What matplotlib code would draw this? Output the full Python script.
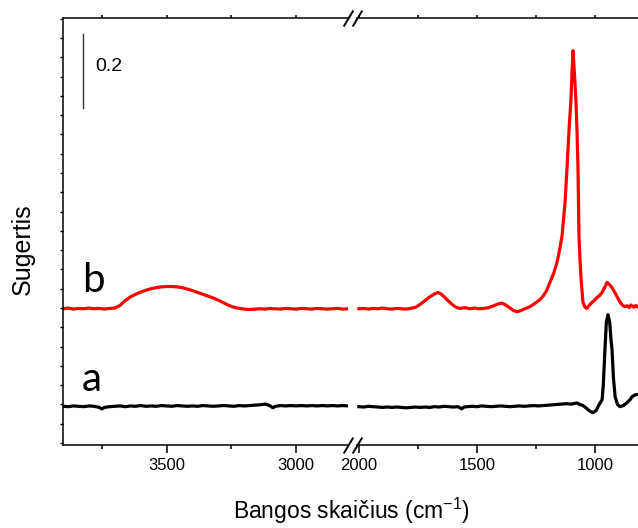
import numpy as np
import matplotlib
matplotlib.use("Agg")
import matplotlib.pyplot as plt
from matplotlib.ticker import MultipleLocator

# ── Config ───────────────────────────────────────────────────────────────────
RED   = "#FF0000"
BLACK = "#000000"

plt.rcParams.update({
    "font.family":      "sans-serif",
    "font.sans-serif":  ["Liberation Sans", "Arial", "DejaVu Sans"],
    "mathtext.fontset": "custom",
    "mathtext.rm":      "Liberation Sans",
    "axes.linewidth":   1.1,
    "figure.facecolor": "white",
})

# ── Data: high-wavenumber part (3900-2800 cm-1) ─────────────────────────────
wn_hi = [3900, 3880, 3860, 3840, 3820, 3800, 3780, 3760, 3750, 3740, 3720, 3700,
         3680, 3660, 3640, 3620, 3600, 3580, 3560, 3540, 3520, 3500, 3480, 3460,
         3440, 3420, 3400, 3380, 3360, 3340, 3320, 3300, 3280, 3260, 3240, 3220,
         3200, 3180, 3160, 3140, 3120, 3110, 3100, 3090, 3080, 3060, 3040, 3020,
         3000, 2980, 2960, 2940, 2920, 2900, 2880, 2860, 2840, 2820, 2800]

b_hi = [0.366, 0.368, 0.365, 0.367, 0.366, 0.368, 0.366, 0.367, 0.366, 0.365, 0.367, 0.368,
        0.375, 0.388, 0.398, 0.405, 0.411, 0.416, 0.420, 0.423, 0.425, 0.426, 0.426, 0.425,
        0.423, 0.419, 0.415, 0.410, 0.405, 0.400, 0.395, 0.389, 0.382, 0.375, 0.370, 0.367,
        0.365, 0.364, 0.365, 0.366, 0.365, 0.366, 0.367, 0.366, 0.366, 0.365, 0.367, 0.366,
        0.365, 0.367, 0.366, 0.365, 0.367, 0.366, 0.365, 0.366, 0.367, 0.365, 0.366]

a_hi = [0.103, 0.102, 0.104, 0.103, 0.102, 0.104, 0.103, 0.100, 0.096, 0.100, 0.102, 0.103,
        0.104, 0.102, 0.104, 0.103, 0.105, 0.103, 0.104, 0.103, 0.105, 0.104, 0.103, 0.105,
        0.104, 0.103, 0.104, 0.103, 0.105, 0.104, 0.103, 0.104, 0.105, 0.104, 0.103, 0.105,
        0.104, 0.105, 0.106, 0.107, 0.109, 0.107, 0.104, 0.099, 0.103, 0.105, 0.104, 0.105,
        0.104, 0.105, 0.104, 0.105, 0.104, 0.105, 0.104, 0.105, 0.104, 0.105, 0.104]

# ── Data: fingerprint part (2000-818 cm-1) ──────────────────────────────────
wn_lo_b = [2000, 1980, 1960, 1940, 1920, 1900, 1880, 1860, 1840, 1820, 1800, 1780,
           1760, 1740, 1720, 1700, 1680, 1665, 1650, 1635, 1620, 1600, 1585, 1570,
           1550, 1530, 1510, 1490, 1470, 1450, 1430, 1410, 1395, 1380, 1360, 1345,
           1330, 1315, 1300, 1285, 1275, 1260, 1245, 1233, 1220, 1205, 1191, 1175,
           1161, 1150, 1140, 1127, 1119, 1110, 1102, 1097, 1093, 1089, 1081, 1076,
           1072, 1068, 1063, 1059, 1051, 1042, 1034, 1025, 1013, 1000, 992, 980,
           970, 958, 949, 940, 928, 918, 907, 895, 886, 875, 864, 855,
           848, 843, 835, 828, 818]

b_lo = [0.366, 0.367, 0.365, 0.367, 0.366, 0.368, 0.366, 0.365, 0.367, 0.366, 0.365, 0.367,
        0.370, 0.378, 0.388, 0.398, 0.406, 0.410, 0.405, 0.396, 0.386, 0.375, 0.369, 0.367,
        0.369, 0.366, 0.368, 0.366, 0.367, 0.369, 0.374, 0.379, 0.381, 0.377, 0.368, 0.361,
        0.358, 0.361, 0.365, 0.369, 0.372, 0.378, 0.385, 0.391, 0.400, 0.415, 0.437, 0.462,
        0.491, 0.525, 0.561, 0.652, 0.741, 0.849, 0.930, 1.010, 1.062, 1.020, 0.930, 0.840,
        0.741, 0.561, 0.490, 0.445, 0.383, 0.370, 0.367, 0.375, 0.383, 0.390, 0.396, 0.402,
        0.410, 0.425, 0.437, 0.432, 0.423, 0.412, 0.399, 0.385, 0.377, 0.372, 0.374, 0.369,
        0.376, 0.374, 0.370, 0.375, 0.371]

wn_lo_a = [2000, 1980, 1960, 1940, 1920, 1900, 1880, 1860, 1840, 1820, 1800, 1780,
           1760, 1740, 1720, 1700, 1680, 1660, 1640, 1620, 1600, 1580, 1565, 1555,
           1540, 1520, 1500, 1480, 1460, 1440, 1420, 1400, 1380, 1360, 1340, 1320,
           1300, 1280, 1260, 1240, 1220, 1200, 1180, 1160, 1140, 1120, 1100, 1085,
           1076, 1065, 1051, 1035, 1020, 1008, 995, 985, 970, 965, 958, 952,
           945, 938, 932, 928, 922, 915, 905, 894, 880, 864, 850, 843,
           830, 818]

a_lo = [0.102, 0.101, 0.103, 0.102, 0.101, 0.100, 0.101, 0.100, 0.101, 0.100, 0.099, 0.100,
        0.101, 0.100, 0.101, 0.100, 0.102, 0.101, 0.103, 0.102, 0.101, 0.102, 0.096, 0.101,
        0.102, 0.103, 0.102, 0.104, 0.103, 0.102, 0.103, 0.104, 0.103, 0.102, 0.103, 0.104,
        0.103, 0.104, 0.105, 0.104, 0.105, 0.106, 0.107, 0.108, 0.109, 0.110, 0.109, 0.111,
        0.112, 0.108, 0.105, 0.097, 0.089, 0.086, 0.092, 0.105, 0.121, 0.160, 0.256, 0.330,
        0.350, 0.330, 0.280, 0.256, 0.180, 0.129, 0.108, 0.102, 0.105, 0.113, 0.122, 0.129,
        0.134, 0.135]

XLIM_HI = (3900, 2800)
XLIM_LO = (2008, 818)
YLIM    = (0, 1.15)

# ── Figure: two axes forming a broken x-axis ────────────────────────────────
W, H = 638, 528
fig = plt.figure(figsize=(W / 100, H / 100), dpi=100)

def px_box(x0, x1, ytop, ybot):
    return [x0 / W, 1 - ybot / H, (x1 - x0) / W, (ybot - ytop) / H]

ax1 = fig.add_axes(px_box(63, 348, 18, 444.5))
ax2 = fig.add_axes(px_box(357, 638, 18, 444.5))

ax1.plot(wn_hi, b_hi, color=RED, lw=2.3, solid_joinstyle="round")
ax1.plot(wn_hi, a_hi, color=BLACK, lw=2.3, solid_joinstyle="round")
ax2.plot(wn_lo_b, b_lo, color=RED, lw=2.3, solid_joinstyle="round")
ax2.plot(wn_lo_a, a_lo, color=BLACK, lw=2.3, solid_joinstyle="round")

for ax, lim in ((ax1, XLIM_HI), (ax2, XLIM_LO)):
    ax.set_xlim(*lim)
    ax.set_ylim(*YLIM)
    ax.xaxis.set_major_locator(MultipleLocator(500))
    ax.xaxis.set_minor_locator(MultipleLocator(250))
    ax.tick_params(axis="x", which="major", direction="out", length=6, width=1.1,
                   labelsize=12, pad=4, top=True)
    ax.tick_params(axis="x", which="minor", direction="out", length=3, width=1.1, top=True)
    ax.tick_params(axis="x", which="both", labeltop=False)
    ax.spines["right"].set_visible(False)

# top ticks short
for ax in (ax1, ax2):
    for t in ax.xaxis.get_major_ticks() + ax.xaxis.get_minor_ticks():
        t.tick2line.set_markersize(2.5)

ax1.set_yticks(np.arange(0.004, 1.15, 0.052))
ax1.tick_params(axis="y", direction="out", length=2.5, width=1, labelleft=False)
ax2.spines["left"].set_visible(False)
ax2.tick_params(axis="y", left=False, labelleft=False)

# break marks
kw = dict(marker=[(-0.6, -1), (0.6, 1)], markersize=11.5, linestyle="none",
          color="k", mec="k", mew=1.4, clip_on=False)
ax1.plot([1, 1], [0, 1], transform=ax1.transAxes, **kw)
ax2.plot([0, 0], [0, 1], transform=ax2.transAxes, **kw)

# scale bar
ax1.plot([3822, 3822], [0.908, 1.108], color="#333333", lw=1)
ax1.text(3775, 1.019, "0.2", fontsize=14, ha="left", va="center")

# curve labels
ax1.text(3828, 0.41, "b", fontsize=29, family="Lato", ha="left", va="baseline")
ax1.text(3828, 0.143, "a", fontsize=29, family="Lato", ha="left", va="baseline")

# axis titles
fig.text(352 / W, 1 - 519 / H, r"Bangos skaičius (cm$^{\mathregular{-1}}$)", fontsize=16.5,
         ha="center", va="baseline")
fig.text(23 / W, 1 - 249 / H, "Sugertis", fontsize=18, rotation=90,
         ha="center", va="center")

fig.savefig("out.png", dpi=100, facecolor="white")
